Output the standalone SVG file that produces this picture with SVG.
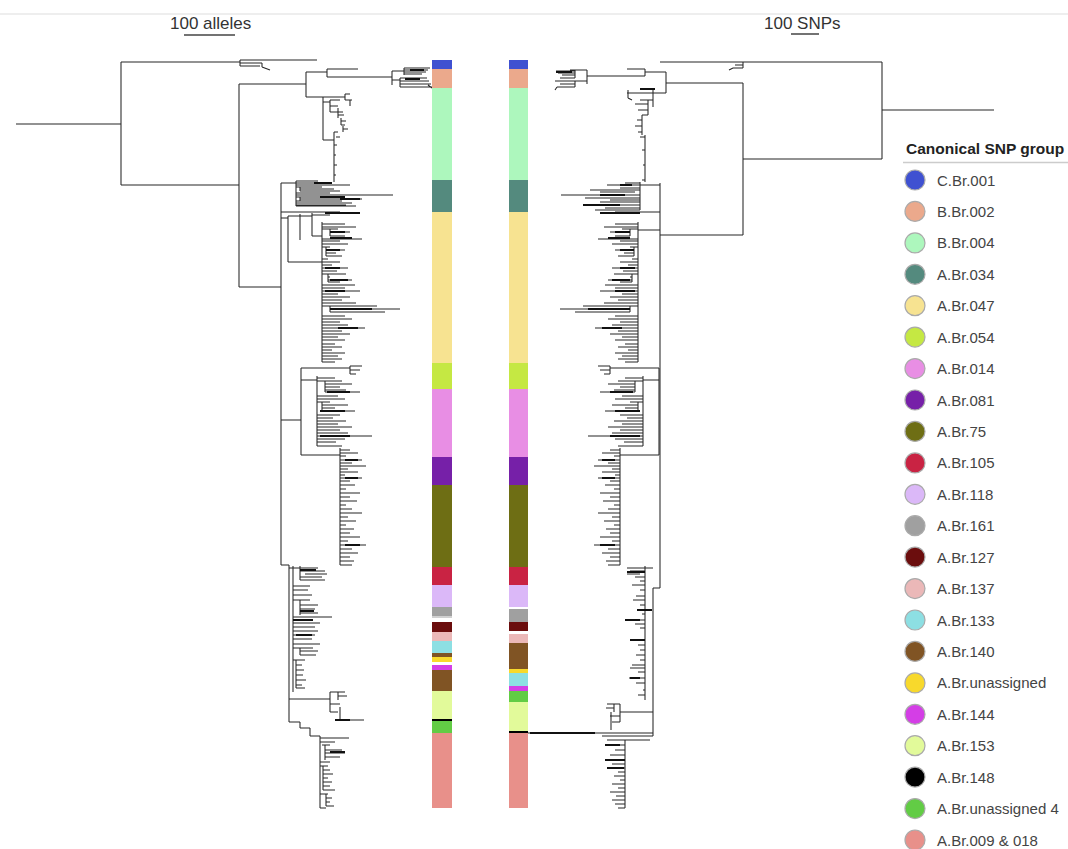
<svg xmlns="http://www.w3.org/2000/svg" xmlns:xlink="http://www.w3.org/1999/xlink" width="1068" height="849" viewBox="0 0 1068 849">
<style>
.br{fill:none;stroke:#262626;stroke-width:1.05}
.tk{fill:none;stroke:#111;stroke-width:2}
.lt{font-family:"Liberation Sans",Arial,sans-serif;font-size:15px;fill:#444}
.ttl{font-family:"Liberation Sans",Arial,sans-serif;font-size:15.5px;font-weight:bold;fill:#222}
.sc{font-family:"Liberation Sans",Arial,sans-serif;font-size:17px;fill:#333}
.dot{stroke:#aaa;stroke-width:1.2}
</style>
<defs>
<g id="c047">
<path class="br" d="M322 222V362 M322 224H345 M322 227H356 M322 229H338 M330 229V236 M330 232H350 M330 236H345 M322 239H362 M322 241H340 M322 244H348 M322 247H330 M326 247V256 M326 250H345 M326 253H336 M326 256H342 M322 259H328 M322 262H340 M322 265H332 M322 268H348 M322 271H337 M322 274H346 M328 274V282 M328 277H330 M328 280H352 M328 282H340 M322 285H355 M322 288H345 M322 291H360 M322 294H338 M322 297H350 M322 300H342 M322 303H356 M322 306H377 M330 306V312 M330 309H400 M330 312H385 M322 316H345 M322 319H352 M322 322H340 M322 325H348 M322 328H365 M322 331H342 M322 334H350 M322 337H338 M322 340H345 M322 344H335 M322 347H342 M322 350H332 M322 353H345 M322 356H338 M322 359H342 M322 362H335"/>
<path class="tk" d="M330 232H345 M325 268H340 M330 280H348 M330 309H372 M338 328H358 M330 238H352 M326 250H340 M325 291H345"/>
</g>
<g id="c054">
<path class="br" d="M301 368V455 M301 368H350 M350 366V374 M350 366H362 M350 370H360 M350 374H356 M301 380H317 M317 376V446 M317 378H335 M317 381H342 M325 381V392 M325 384H352 M325 387H340 M325 390H346 M325 392H360 M317 396H338 M317 399H345 M317 402H330 M322 402V412 M322 405H348 M322 408H335 M322 411H355 M317 415H340 M317 418H333 M317 421H346 M317 424H338 M317 427H352 M317 430H340 M317 433H348 M317 436H372 M317 439H345 M317 442H336 M317 446H342 M301 455H340 M340 448V565 M340 450H350 M340 453H358 M340 456H346 M340 460H362 M340 463H352 M340 466H366 M340 469H348 M340 472H358 M340 475H345 M340 478H362 M340 481H350 M340 485H355 M340 489H346 M340 493H360 M340 497H350 M340 501H357 M340 505H346 M340 509H352 M340 513H362 M340 517H348 M340 521H356 M340 525H346 M340 529H354 M340 533H350 M340 537H360 M340 541H348 M340 545H366 M340 549H352 M340 553H358 M340 557H350 M340 561H354 M340 565H352"/>
<path class="tk" d="M345 460H358 M345 478H358 M345 545H360 M327 392H350 M320 411H345 M320 436H350"/>
</g>
</defs>
<rect width="1068" height="849" fill="#fff"/>
<line x1="0" y1="14" x2="1068" y2="14" stroke="#ddd" stroke-width="1"/>
<g id="scalebars">
<text class="sc" x="170" y="29">100 alleles</text>
<line x1="184" y1="35" x2="235" y2="35" stroke="#444" stroke-width="1.5"/>
<text class="sc" x="764" y="29">100 SNPs</text>
<line x1="791" y1="34" x2="819" y2="34" stroke="#444" stroke-width="1.5"/>
</g>
<g id="connectors">
<g id="tree-left">
<path class="br" d="M16 124H121 M121 62V185 M121 62H240 M121 185H239 M239 84V287 M239 287H281 M239 84H306 M306 72V97 M306 72H327 M327 69V77 M327 69H358 M327 77H392
M240 60V66 M240 60H317 M240 63H262 M240 66H260 M262 63V67 M262 67L270 70
M392 71V85 M392 71H404 M404 68V75 M404 68H430 M404 70H428 M404 72H426 M404 74H422 M392 80H400 M400 78V87 M400 78H427 M400 81H429 M400 84H431 M400 87H432 M428 85L432 88
M306 97H323 M323 97V140 M323 97H345 M345 94V100 M345 94H350 M345 100H352 M350 100V106 M323 102H330 M330 100V112 M330 100H340 M330 106H338 M330 112H343 M338 108V118 M338 115H344 M341 118V125 M341 121H346 M341 125H345 M343 126V132 M343 129H348 M323 140H334 M334 132V182 M334 132H338 M336 137H340 M334 145H337 M334 155H336 M334 165H337 M334 175H336
M281 183V565 M281 565H289 M289 565V722
M281 183H296 M296 181V206 M296 181H318 M296 183H326 M296 185H350 M296 187H322 M300 187V191 M300 189H334 M300 191H340 M296 193H330 M296 195H393 M296 197H336 M300 197V201 M300 199H362 M296 201H342 M296 203H352 M296 205H346 M296 206H356
M281 212H340 M281 218H288 M288 216V262 M288 216H300 M300 214V240 M300 216H312 M312 213V236 M312 215H330 M312 236H322 M288 262H322
M281 420H301
M289 568H293 M293 566V692 M293 568H313 M300 566V580 M300 568H318 M300 571H325 M305 574H327 M300 577H322 M300 580H325 M293 586H310 M293 590H308 M293 595H312 M293 600H310 M300 600V615 M300 605H318 M300 609H315 M300 613H318 M293 617H332 M293 620H313 M293 623H320 M293 627H315 M293 631H318 M293 635H315 M293 639H312 M293 644H320 M293 648H313 M300 648V655 M300 651H318 M300 655H316 M293 660H305 M296 660V688 M296 665H302 M296 670H304 M296 675H303 M296 680H306 M296 685H302 M296 688H305
M289 699H330 M330 692V712 M330 692H345 M338 692V700 M338 696H347 M330 704H340 M330 712H338 M340 707V720 M335 720H364
M289 722H300 M300 722V728 M300 728H310 M310 728V736 M310 736H320 M320 736V808 M320 738H349 M320 742H335 M322 745H330 M325 745V760 M325 750H342 M325 753H345 M325 757H340 M320 762H330 M320 766H328 M323 766V790 M323 770H330 M323 774H333 M323 778H328 M323 782H332 M323 786H330 M323 790H335 M320 794H328 M326 794V806 M326 798H332 M326 802H330 M326 806H334 M320 808H326"/>
<path class="tk" d="M410 70H424 M405 79H420 M314 183H332 M320 197H345 M340 199H360 M325 213H360 M293 620H313 M296 635H312 M300 611H314 M300 570H316 M335 720H350 M330 752H345"/>
<use xlink:href="#c047"/>
<use xlink:href="#c054"/>
</g>
<g id="tree-right">
<path class="br" d="M994 110H882 M882 62V159 M882 62H660 M882 159H743 M743 83V235 M743 83H666 M666 72V93 M666 72H645 M645 69V76 M645 69H627 M645 76H587
M743 62V68 M743 65H735 M743 68H733 L729 70
M587 70V84 M587 70H570 M575 70V78 M575 71H556 M575 73H558 M575 75H562 M575 78H560 M587 81H575 M575 81V87 M575 81H555 M575 84H560 M575 87H557 M557 87L555 90
M666 93H653 M653 90V107 M653 93H627 M628 90V98 M628 98L632 100 M653 100H640 M648 100V115 M648 104H635 M648 110H638 M648 115H642 M642 115V135 M642 120H637 M642 126H635 M642 132H638 M645 135V182 M645 137H640 M645 150H642 M645 165H643 M645 180H642
M743 235H660 M660 183V588 M660 588H653 M653 588V736
M660 185H640 M640 182V210 M640 183H625 M640 185H607 M640 188H620 M640 190H590 M635 192H600 M640 195H561 M640 198H585 M640 200H610 M640 202H600 M640 205H583 M640 208H605 M640 210H595
M660 212H615 M660 230H638
M653 568H645 M645 566V700 M645 568H627 M645 571H630 M640 574H627 M645 577H635 M645 581H640 M645 585H632 M645 590H640 M645 596H636 M645 600H633 M645 605H640 M645 610H637 M645 614H642 M645 620H625 M645 624H635 M645 628H640 M645 640H630 M645 645H638 M645 650H640 M645 655H636 M645 660H640 M645 665H632 M645 668H630 M645 672H638 M645 678H629 M645 683H636 M645 690H643 M645 695H638
M653 712H620 M620 704V722 M620 704H607 M614 704V712 M614 708H606 M620 716H610 M611 712V730 M620 722H612
M528 733H653
M653 736H602 M650 740H607 M625 740V808 M625 745H605 M625 750H615 M625 755H610 M625 760H605 M625 764H612 M625 768H607 M625 772H618 M625 776H614 M625 780H620 M625 784H612 M625 788H618 M625 792H610 M625 796H616 M625 800H612 M625 804H615 M625 808H618"/>
<path class="tk" d="M556 72H572 M640 89H655 M620 185H632 M583 205H620 M600 195H625 M600 213H640 M637 610H652 M625 620H640 M630 640H645 M630 678H640 M627 572H645 M530 733H595 M605 760H625 M607 768H624 M605 745H620"/>
<use xlink:href="#c047" transform="matrix(-1 0 0 1 960 0)"/>
<use xlink:href="#c054" transform="matrix(-1 0 0 1 960 0)"/>
</g>
</g>
<g id="bar-left">
<rect x="432" y="60" width="20" height="9" fill="#3f51d1"/>
<rect x="432" y="69" width="20" height="19" fill="#eba98c"/>
<rect x="432" y="88" width="20" height="92" fill="#adf7bd"/>
<rect x="432" y="180" width="20" height="32" fill="#548a7e"/>
<rect x="432" y="212" width="20" height="151" fill="#f7e391"/>
<rect x="432" y="363" width="20" height="26" fill="#c5e843"/>
<rect x="432" y="389" width="20" height="68" fill="#e88ee4"/>
<rect x="432" y="457" width="20" height="28" fill="#7620a8"/>
<rect x="432" y="485" width="20" height="82" fill="#6e6e14"/>
<rect x="432" y="567" width="20" height="18" fill="#c92343"/>
<rect x="432" y="585" width="20" height="22" fill="#dbb8f8"/>
<rect x="432" y="607" width="20" height="9" fill="#a0a0a0"/>
<rect x="432" y="616" width="20" height="2" fill="#d0d0d0"/>
<rect x="432" y="622" width="20" height="10" fill="#6b0d0d"/>
<rect x="432" y="632" width="20" height="9" fill="#ebb8b8"/>
<rect x="432" y="641" width="20" height="12" fill="#8ddfe3"/>
<rect x="432" y="653" width="20" height="4" fill="#805424"/>
<rect x="432" y="657" width="20" height="5" fill="#f8d92c"/>
<rect x="432" y="665" width="20" height="5" fill="#d43ee6"/>
<rect x="432" y="670" width="20" height="21" fill="#805424"/>
<rect x="432" y="691" width="20" height="28" fill="#e2fa9a"/>
<rect x="432" y="719" width="20" height="2" fill="#000"/>
<rect x="432" y="721" width="20" height="12" fill="#62cc45"/>
<rect x="432" y="733" width="20" height="75" fill="#e8908a"/>
</g>
<g id="bar-right">
<rect x="509" y="60" width="19" height="9" fill="#3f51d1"/>
<rect x="509" y="69" width="19" height="19" fill="#eba98c"/>
<rect x="509" y="88" width="19" height="92" fill="#adf7bd"/>
<rect x="509" y="180" width="19" height="32" fill="#548a7e"/>
<rect x="509" y="212" width="19" height="151" fill="#f7e391"/>
<rect x="509" y="363" width="19" height="26" fill="#c5e843"/>
<rect x="509" y="389" width="19" height="68" fill="#e88ee4"/>
<rect x="509" y="457" width="19" height="28" fill="#7620a8"/>
<rect x="509" y="485" width="19" height="82" fill="#6e6e14"/>
<rect x="509" y="567" width="19" height="18" fill="#c92343"/>
<rect x="509" y="585" width="19" height="22" fill="#dbb8f8"/>
<rect x="509" y="609" width="19" height="13" fill="#a0a0a0"/>
<rect x="509" y="622" width="19" height="9" fill="#6b0d0d"/>
<rect x="509" y="634" width="19" height="9" fill="#ebb8b8"/>
<rect x="509" y="643" width="19" height="26" fill="#805424"/>
<rect x="509" y="669" width="19" height="4" fill="#f8d92c"/>
<rect x="509" y="673" width="19" height="13" fill="#8ddfe3"/>
<rect x="509" y="686" width="19" height="5" fill="#d43ee6"/>
<rect x="509" y="691" width="19" height="11" fill="#62cc45"/>
<rect x="509" y="702" width="19" height="29" fill="#e2fa9a"/>
<rect x="509" y="731" width="19" height="2" fill="#000"/>
<rect x="509" y="733" width="19" height="75" fill="#e8908a"/>
</g>
<g id="legend">
<text class="ttl" x="906" y="154">Canonical SNP group</text>
<line x1="903" y1="162.5" x2="1068" y2="162.5" stroke="#ccc" stroke-width="1.5"/>
<g id="lg-C.Br.001"><circle class="dot" cx="915" cy="180" r="10" fill="#3f51d1"/><text class="lt" x="937" y="185.5">C.Br.001</text></g>
<g id="lg-B.Br.002"><circle class="dot" cx="915" cy="211.4" r="10" fill="#eba98c"/><text class="lt" x="937" y="216.9">B.Br.002</text></g>
<g id="lg-B.Br.004"><circle class="dot" cx="915" cy="242.9" r="10" fill="#adf7bd"/><text class="lt" x="937" y="248.4">B.Br.004</text></g>
<g id="lg-A.Br.034"><circle class="dot" cx="915" cy="274.3" r="10" fill="#548a7e"/><text class="lt" x="937" y="279.8">A.Br.034</text></g>
<g id="lg-A.Br.047"><circle class="dot" cx="915" cy="305.7" r="10" fill="#f7e391"/><text class="lt" x="937" y="311.2">A.Br.047</text></g>
<g id="lg-A.Br.054"><circle class="dot" cx="915" cy="337.1" r="10" fill="#c5e843"/><text class="lt" x="937" y="342.6">A.Br.054</text></g>
<g id="lg-A.Br.014"><circle class="dot" cx="915" cy="368.6" r="10" fill="#e88ee4"/><text class="lt" x="937" y="374.1">A.Br.014</text></g>
<g id="lg-A.Br.081"><circle class="dot" cx="915" cy="400" r="10" fill="#7620a8"/><text class="lt" x="937" y="405.5">A.Br.081</text></g>
<g id="lg-A.Br.75"><circle class="dot" cx="915" cy="431.4" r="10" fill="#6e6e14"/><text class="lt" x="937" y="436.9">A.Br.75</text></g>
<g id="lg-A.Br.105"><circle class="dot" cx="915" cy="462.9" r="10" fill="#c92343"/><text class="lt" x="937" y="468.4">A.Br.105</text></g>
<g id="lg-A.Br.118"><circle class="dot" cx="915" cy="494.3" r="10" fill="#dbb8f8"/><text class="lt" x="937" y="499.8">A.Br.118</text></g>
<g id="lg-A.Br.161"><circle class="dot" cx="915" cy="525.7" r="10" fill="#a0a0a0"/><text class="lt" x="937" y="531.2">A.Br.161</text></g>
<g id="lg-A.Br.127"><circle class="dot" cx="915" cy="557.1" r="10" fill="#6b0d0d"/><text class="lt" x="937" y="562.6">A.Br.127</text></g>
<g id="lg-A.Br.137"><circle class="dot" cx="915" cy="588.6" r="10" fill="#ebb8b8"/><text class="lt" x="937" y="594.1">A.Br.137</text></g>
<g id="lg-A.Br.133"><circle class="dot" cx="915" cy="620" r="10" fill="#8ddfe3"/><text class="lt" x="937" y="625.5">A.Br.133</text></g>
<g id="lg-A.Br.140"><circle class="dot" cx="915" cy="651.4" r="10" fill="#805424"/><text class="lt" x="937" y="656.9">A.Br.140</text></g>
<g id="lg-A.Br.unassigned"><circle class="dot" cx="915" cy="682.9" r="10" fill="#f8d92c"/><text class="lt" x="937" y="688.4">A.Br.unassigned</text></g>
<g id="lg-A.Br.144"><circle class="dot" cx="915" cy="714.3" r="10" fill="#d43ee6"/><text class="lt" x="937" y="719.8">A.Br.144</text></g>
<g id="lg-A.Br.153"><circle class="dot" cx="915" cy="745.7" r="10" fill="#e2fa9a"/><text class="lt" x="937" y="751.2">A.Br.153</text></g>
<g id="lg-A.Br.148"><circle class="dot" cx="915" cy="777.1" r="10" fill="#000"/><text class="lt" x="937" y="782.6">A.Br.148</text></g>
<g id="lg-A.Br.unassigned4"><circle class="dot" cx="915" cy="808.6" r="10" fill="#62cc45"/><text class="lt" x="937" y="814.1">A.Br.unassigned 4</text></g>
<g id="lg-A.Br.009-018"><circle class="dot" cx="915" cy="840" r="10" fill="#e8908a"/><text class="lt" x="937" y="845.5">A.Br.009 &amp; 018</text></g>
</g>
</svg>
